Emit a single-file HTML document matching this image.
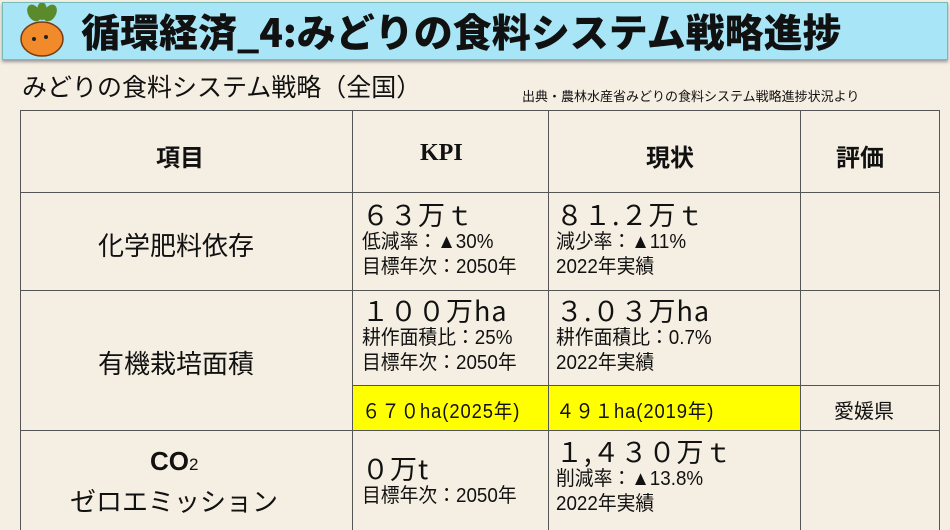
<!DOCTYPE html>
<html><head><meta charset="utf-8"><style>
*{margin:0;padding:0;box-sizing:border-box}
body{width:950px;height:530px;overflow:hidden;background:#f5eee2;font-family:"Liberation Sans","Noto Sans CJK JP",sans-serif;color:#111;position:relative}
.bar{position:absolute;left:2px;top:2px;width:946px;height:58px;background:#a7e5f7;border:1px solid #7bb;box-shadow:0 2px 3px #999}
.bar .t{position:absolute;left:78px;top:2px;font-size:39px;font-weight:900;line-height:52px;white-space:nowrap;font-family:"Noto Sans CJK JP",sans-serif}
.a{position:absolute;white-space:nowrap}
.v{position:absolute;background:#555;width:1px}
.h{position:absolute;background:#555;height:1px}
.big{font-size:27px;letter-spacing:1px;line-height:32px;font-family:"Noto Sans CJK JP",sans-serif}
.sm{font-size:20px;line-height:25px;transform:scaleX(0.94);transform-origin:left}
</style></head><body>
<div class="bar">
<svg style="position:absolute;left:14px;top:0" width="50" height="56">
<g fill="#5a8a2a"><ellipse cx="17" cy="10" rx="6" ry="9" transform="rotate(-30 17 10)"/><ellipse cx="33" cy="10" rx="6" ry="9" transform="rotate(30 33 10)"/><ellipse cx="25" cy="8" rx="5" ry="9"/></g>
<ellipse cx="25" cy="36" rx="21" ry="17" fill="#f08a2a" stroke="#7a3a10" stroke-width="1.5"/>
<circle cx="17" cy="36" r="2" fill="#222"/><circle cx="29" cy="34" r="2" fill="#222"/>
</svg>
<div class="t">循環経済_4:みどりの食料システム戦略進捗</div>
</div>
<div class="a" style="left:22px;top:70px;font-size:25px;line-height:36px">みどりの食料システム戦略（全国）</div>
<div class="a" style="left:522px;top:86px;font-size:13px">出典・農林水産省みどりの食料システム戦略進捗状況より</div>
<div style="position:absolute;left:352px;top:385px;width:448px;height:45px;background:#ffff00"></div>
<div class="h" style="left:20px;top:110px;width:920px"></div>
<div class="h" style="left:20px;top:192px;width:920px"></div>
<div class="h" style="left:20px;top:290px;width:920px"></div>
<div class="h" style="left:352px;top:385px;width:588px"></div>
<div class="h" style="left:20px;top:430px;width:920px"></div>
<div class="v" style="left:20px;top:110px;height:420px"></div>
<div class="v" style="left:352px;top:110px;height:420px"></div>
<div class="v" style="left:548px;top:110px;height:420px"></div>
<div class="v" style="left:800px;top:110px;height:420px"></div>
<div class="v" style="left:939px;top:110px;height:420px"></div>
<div class="a" style="left:156px;top:138px;font-size:24px;font-weight:bold">項目</div>
<div class="a" style="left:420px;top:140px;font-size:24px;font-weight:bold;font-family:'Liberation Serif',serif">KPI</div>
<div class="a" style="left:646px;top:138px;font-size:24px;font-weight:bold">現状</div>
<div class="a" style="left:836px;top:138px;font-size:24px;font-weight:bold">評価</div>
<div class="a" style="left:98px;top:226px;font-size:26px">化学肥料依存</div>
<div class="a" style="left:98px;top:344px;font-size:26px">有機栽培面積</div>
<div class="a" style="left:150px;top:446px;font-size:26px;font-weight:bold">CO<span style="font-size:17px;font-weight:normal">2</span></div>
<div class="a" style="left:70px;top:482px;font-size:26px">ゼロエミッション</div>
<div class="a" style="left:362px;top:198px"><div class="big">６３万ｔ</div><div class="sm">低減率：▲30%</div><div class="sm">目標年次：2050年</div></div>
<div class="a" style="left:556px;top:198px"><div class="big">８１.２万ｔ</div><div class="sm">減少率：▲11%</div><div class="sm">2022年実績</div></div>
<div class="a" style="left:362px;top:294px"><div class="big">１００万ha</div><div class="sm">耕作面積比：25%</div><div class="sm">目標年次：2050年</div></div>
<div class="a" style="left:556px;top:294px"><div class="big">３.０３万ha</div><div class="sm">耕作面積比：0.7%</div><div class="sm">2022年実績</div></div>
<div class="a" style="left:362px;top:395px;font-size:20px;letter-spacing:1px;transform:scaleX(0.92);transform-origin:left">６７０ha(2025年)</div>
<div class="a" style="left:556px;top:395px;font-size:20px;letter-spacing:1px;transform:scaleX(0.92);transform-origin:left">４９１ha(2019年)</div>
<div class="a" style="left:834px;top:395px;font-size:20px">愛媛県</div>
<div class="a" style="left:362px;top:452px"><div class="big">０万t</div><div class="sm">目標年次：2050年</div></div>
<div class="a" style="left:556px;top:435px"><div class="big">１,４３０万ｔ</div><div class="sm">削減率：▲13.8%</div><div class="sm">2022年実績</div></div>
</body></html>
